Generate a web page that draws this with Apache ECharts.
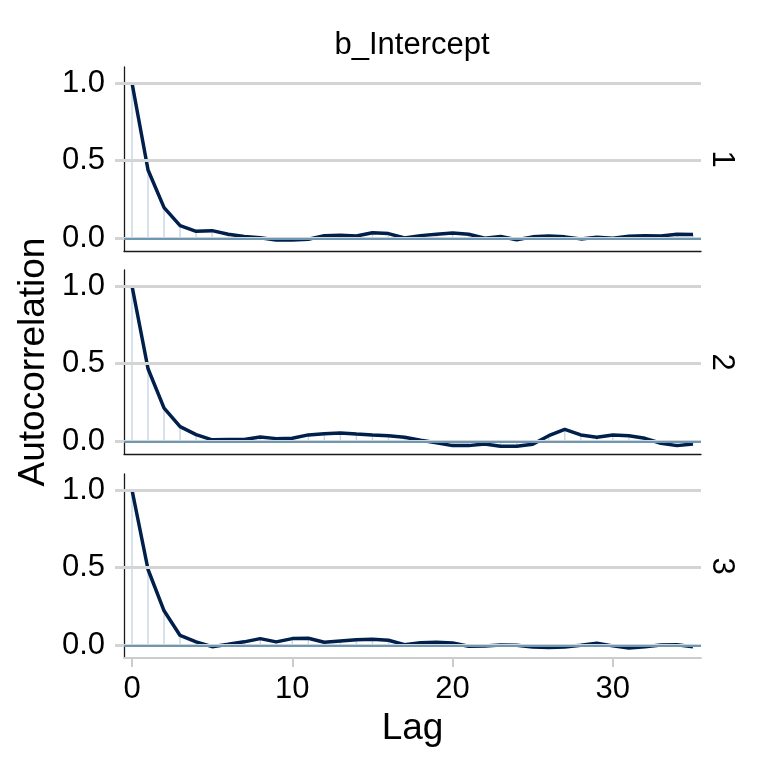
<!DOCTYPE html>
<html>
<head>
<meta charset="utf-8">
<script src="https://cdn.jsdelivr.net/npm/echarts@6/dist/echarts.min.js"></script>
<style>html,body{margin:0;padding:0;background:#fff}#c{width:768px;height:768px}</style>
</head>
<body>
<div id="c"></div>
<script>
const lags = [0,1,2,3,4,5,6,7,8,9,10,11,12,13,14,15,16,17,18,19,20,21,22,23,24,25,26,27,28,29,30,31,32,33,34,35];
const chain1 = [1.0,0.44,0.197,0.081,0.045,0.049,0.026,0.011,0.004,-0.011,-0.011,-0.006,0.017,0.019,0.015,0.036,0.030,0.002,0.017,0.026,0.034,0.026,0.000,0.011,-0.009,0.009,0.015,0.009,-0.004,0.006,0.000,0.013,0.017,0.015,0.026,0.024];
const chain2 = [1.0,0.467,0.214,0.094,0.043,0.009,0.011,0.011,0.028,0.017,0.019,0.041,0.049,0.054,0.047,0.041,0.036,0.026,0.006,-0.009,-0.028,-0.028,-0.017,-0.032,-0.032,-0.019,0.036,0.077,0.041,0.026,0.041,0.036,0.019,-0.013,-0.028,-0.017];
const chain3 = [1.0,0.488,0.222,0.063,0.022,-0.009,0.006,0.022,0.043,0.022,0.043,0.045,0.019,0.028,0.035,0.039,0.032,0.004,0.017,0.019,0.015,-0.006,-0.004,0.002,0.000,-0.011,-0.015,-0.011,0.000,0.013,-0.004,-0.017,-0.009,0.002,0.004,-0.009];
const chains = [chain1, chain2, chain3];
const chainLabels = ['1','2','3'];
const yTicks = [0, 0.5, 1.0];
const xTicks = [0, 10, 20, 30];
const panelTitle = 'b_Intercept';
const xTitle = 'Lag';
const yTitle = 'Autocorrelation';

const FONT = 'Liberation Sans, Arial, Helvetica, sans-serif';
const gridTops = [67, 270, 474];
const gridH = 184;
const grids = gridTops.map(t => ({left: 124, right: 67, top: t, height: gridH, containLabel: false}));

const xAxes = chains.map((c, i) => {
  const last = i === chains.length - 1;
  return {
    type: 'value', gridIndex: i, min: -0.5, max: 35.5,
    axisLine: {show: true, onZero: false, lineStyle: {color: last ? '#cccccc' : '#1a1a1a', width: last ? 2 : 1.3}},
    axisTick: {show: last, customValues: xTicks, length: 9, lineStyle: {color: '#cccccc', width: 2}},
    axisLabel: {show: last, customValues: xTicks, margin: 16, fontSize: 31, color: '#000', fontFamily: FONT},
    splitLine: {show: false},
    name: last ? xTitle : '', nameLocation: 'middle', nameGap: 52,
    nameTextStyle: {fontSize: 37, color: '#000', fontFamily: FONT}
  };
});
const yAxes = chains.map((c, i) => ({
  type: 'value', gridIndex: i, min: -0.082, max: 1.103,
  axisLine: {show: true, onZero: false, lineStyle: {color: '#1a1a1a', width: 1.3}},
  axisTick: {show: true, customValues: yTicks, length: 9, lineStyle: {color: '#d4d4d4', width: 3}},
  axisLabel: {show: true, customValues: yTicks, margin: 19, fontSize: 31, color: '#000', fontFamily: FONT,
    formatter: v => Number(v).toFixed(1)},
  splitLine: {show: false}
}));

const series = [];
chains.forEach((vals, i) => {
  const pts = lags.map((l, k) => [l, vals[k]]);
  series.push({
    type: 'line', xAxisIndex: i, yAxisIndex: i, data: [], silent: true, z: 0,
    markLine: {silent: true, symbol: 'none', label: {show: false},
      lineStyle: {color: '#d4d4d4', width: 3, type: 'solid'},
      data: yTicks.map(v => ({yAxis: v}))}
  });
  series.push({
    type: 'bar', xAxisIndex: i, yAxisIndex: i, data: pts, barWidth: 1.5, z: 1, silent: true,
    itemStyle: {color: '#c9dbe8'}
  });
  series.push({
    type: 'line', xAxisIndex: i, yAxisIndex: i, data: [], silent: true, z: 2,
    markLine: {silent: true, symbol: 'none', label: {show: false},
      lineStyle: {color: '#6e97b3', width: 1.8, type: 'solid'},
      data: [{yAxis: 0}]}
  });
  series.push({
    type: 'line', xAxisIndex: i, yAxisIndex: i, data: pts, showSymbol: false, z: 3, silent: true,
    lineStyle: {color: '#011f4b', width: 3.5}
  });
});

const graphics = chainLabels.map((lab, i) => ({
  type: 'text', x: 722, y: gridTops[i] + gridH / 2, rotation: -Math.PI / 2,
  style: {text: lab, fontSize: 31, fontFamily: FONT, fill: '#000', align: 'center', verticalAlign: 'middle'}
}));
graphics.push({
  type: 'text', x: 34, y: 362, rotation: Math.PI / 2,
  style: {text: yTitle, fontSize: 37, fontFamily: FONT, fill: '#000', align: 'center', verticalAlign: 'middle'}
});
graphics.push({
  type: 'text', x: 412, y: 45,
  style: {text: panelTitle, fontSize: 31, fontFamily: FONT, fill: '#000', align: 'center', verticalAlign: 'middle'}
});

const chart = echarts.init(document.getElementById('c'), null, {renderer: 'canvas'});
chart.setOption({
  backgroundColor: '#fff',
  animation: false,
  grid: grids,
  xAxis: xAxes,
  yAxis: yAxes,
  series: series,
  graphic: graphics
});
</script>
</body>
</html>
